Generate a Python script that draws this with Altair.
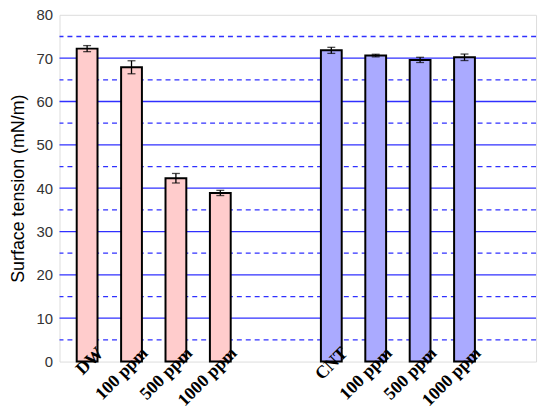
import altair as alt
import pandas as pd

# ---- data ----
labels = ["DW", "100 ppm", "500 ppm", "1000 ppm", "CNT", "100 ppm", "500 ppm", "1000 ppm"]
positions = [1, 2, 3, 4, 6.5, 7.5, 8.5, 9.5]
groups = ["DW", "DW", "DW", "DW", "CNT", "CNT", "CNT", "CNT"]
values = [72.2, 67.9, 42.3, 38.9, 71.8, 70.6, 69.6, 70.2]
errors = [0.7, 1.5, 1.1, 0.6, 0.7, 0.3, 0.6, 0.75]
solid_levels = [10, 20, 30, 40, 50, 60, 70]
dashed_levels = [5, 15, 25, 35, 45, 55, 65, 75]
y_ticks = [0, 10, 20, 30, 40, 50, 60, 70, 80]

df = pd.DataFrame({
    "pos": positions,
    "label": labels,
    "group": groups,
    "value": values,
    "lo": [v - e for v, e in zip(values, errors)],
    "hi": [v + e for v, e in zip(values, errors)],
})

label_expr = " : ".join(
    f"datum.value == {p} ? '{l}'" for p, l in zip(positions, labels)
) + " : ''"

x_scale = alt.Scale(domain=[0.49, 11.0], nice=False, zero=False)
y_scale = alt.Scale(domain=[0, 80], nice=False)

x_axis = alt.Axis(
    values=positions, labelExpr=label_expr, title=None, grid=False,
    ticks=False, tickSize=0, domain=False, zindex=2,
    labelAngle=315, labelAlign="right", labelBaseline="alphabetic",
    labelFont="Liberation Serif", labelFontWeight="bold", labelFontSize=18,
    labelColor="black", labelPadding=-8, labelOffset=17, labelOverlap=False,
    labelBound=False, labelFlush=False,
)
y_axis = alt.Axis(
    values=y_ticks, title="Surface tension (mN/m)", grid=False, ticks=False,
    tickSize=0, domain=False, labelFont="Liberation Sans", labelFontSize=15,
    labelColor="#333333", labelPadding=7, titleFont="Liberation Sans",
    titleFontSize=18, titleFontWeight="normal", titleColor="black",
    titlePadding=9,
)

x_enc = alt.X("pos:Q", scale=x_scale, axis=x_axis)

solid = alt.Chart(pd.DataFrame({"lvl": solid_levels})).mark_rule(
    color="#3030ff", strokeWidth=1.3
).encode(y=alt.Y("lvl:Q", scale=y_scale, axis=y_axis))

dashed = alt.Chart(pd.DataFrame({"lvl": dashed_levels})).mark_rule(
    color="#3030ff", strokeWidth=1.3, strokeDash=[5, 4]
).encode(y=alt.Y("lvl:Q", scale=y_scale, axis=y_axis))

base = alt.Chart(df)

bars = base.mark_bar(size=21, stroke="black", strokeWidth=2).encode(
    x=x_enc,
    y=alt.Y("value:Q", scale=y_scale, axis=y_axis),
    fill=alt.Fill("group:N", scale=alt.Scale(domain=["DW", "CNT"], range=["#FFCCCC", "#AAAAFF"]), legend=None),
)

err = base.mark_rule(color="black", strokeWidth=1.3).encode(
    x=x_enc,
    y=alt.Y("lo:Q", scale=y_scale, axis=y_axis),
    y2="hi:Q",
)

cap_hi = base.mark_tick(color="black", thickness=1.3, size=8, orient="horizontal").encode(
    x=x_enc, y=alt.Y("hi:Q", scale=y_scale, axis=y_axis)
)
cap_lo = base.mark_tick(color="black", thickness=1.3, size=8, orient="horizontal").encode(
    x=x_enc, y=alt.Y("lo:Q", scale=y_scale, axis=y_axis)
)

chart = alt.layer(solid, dashed, bars, err, cap_hi, cap_lo).properties(
    width=481, height=350,
    autosize=alt.AutoSizeParams(type="none"),
    padding={"left": 52, "top": 5, "right": 6, "bottom": 47},
).configure_view(stroke="#555555", strokeWidth=1.5).configure(background="white")

chart.save("out.html", embed_options={"renderer": "svg", "actions": False})
